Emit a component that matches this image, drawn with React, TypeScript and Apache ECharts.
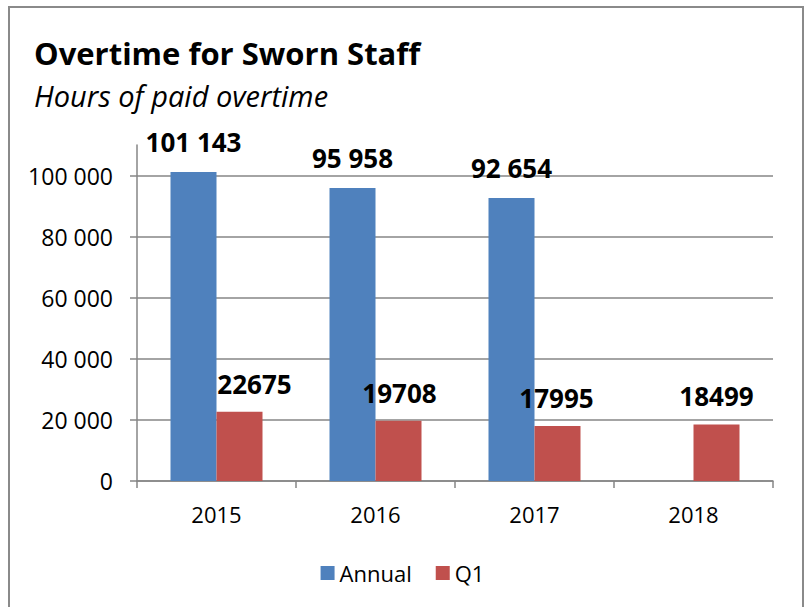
import React, { useEffect, useRef } from "react";
import * as echarts from "echarts";

const categories = ["2015", "2016", "2017", "2018"];
const annualValues: (number | null)[] = [101143, 95958, 92654, null];
const q1Values = [22675, 19708, 17995, 18499];
const q1LabelOffsets = [15, 1, -1, 0];

const FONT = "'Open Sans', sans-serif";
const fmtSpace = (v: number) =>
  String(Math.round(v)).replace(/\B(?=(\d{3})+(?!\d))/g, " ");

export default function App() {
  const ref = useRef<HTMLDivElement>(null);
  useEffect(() => {
    if (!ref.current) return;
    const chart = echarts.init(ref.current, null, { renderer: "svg" });
    chart.setOption({
      animation: false,
      backgroundColor: "#ffffff",
      textStyle: { fontFamily: FONT },
      title: [
        {
          text: "Overtime for Sworn Staff",
          left: 29,
          top: 32,
          textStyle: { fontFamily: FONT, fontSize: 31, fontWeight: "bold", color: "#000" },
        },
        {
          text: "Hours of paid overtime",
          left: 29,
          top: 76,
          textStyle: { fontFamily: FONT, fontSize: 29, fontStyle: "italic", fontWeight: "normal", color: "#000" },
        },
      ],
      graphic: [
        {
          type: "rect",
          shape: { x: 9, y: 7, width: 794, height: 640 },
          style: { fill: "none", stroke: "#8a8a8a", lineWidth: 2 },
          silent: true,
          z: -1,
        },
      ],
      legend: {
        bottom: 18,
        left: "center",
        itemWidth: 14,
        itemHeight: 14,
        itemGap: 24,
        icon: "rect",
        textStyle: { fontFamily: FONT, fontSize: 22, color: "#000" },
        data: ["Annual", "Q1"],
      },
      grid: { left: 137, right: 32, top: 145, bottom: 126 },
      xAxis: {
        type: "category",
        data: categories,
        axisLine: { lineStyle: { color: "#868686", width: 1.5 } },
        axisTick: { show: true, length: 7, lineStyle: { color: "#868686", width: 1.5 } },
        axisLabel: { fontFamily: FONT, fontSize: 22, color: "#000", margin: 22 },
      },
      yAxis: {
        type: "value",
        min: 0,
        max: 110000,
        interval: 20000,
        axisLine: { show: true, lineStyle: { color: "#868686", width: 1.5 } },
        axisTick: { show: true, length: 7, lineStyle: { color: "#868686", width: 1.5 } },
        splitLine: { show: true, showMaxLine: false, lineStyle: { color: "#868686", width: 1.5 } },
        axisLabel: {
          fontFamily: FONT,
          fontSize: 23,
          color: "#000",
          margin: 24,
          showMaxLabel: false,
          formatter: (v: number) => (v > 100000 ? "" : fmtSpace(v)),
        },
      },
      series: [
        {
          name: "Annual",
          type: "bar",
          data: annualValues,
          barWidth: 46,
          barGap: "0%",
          itemStyle: { color: "#4F81BD" },
          label: {
            show: true,
            position: "top",
            distance: 17,
            fontFamily: FONT,
            fontSize: 26,
            fontWeight: "bold",
            lineHeight: 26,
            color: "#000",
            formatter: (p: any) => (p.value == null ? "" : fmtSpace(p.value)),
          },
        },
        {
          name: "Q1",
          type: "bar",
          data: q1Values.map((v, i) => ({
            value: v,
            label: { offset: [q1LabelOffsets[i], 0] },
          })),
          barWidth: 46,
          barGap: "0%",
          itemStyle: { color: "#C0504D" },
          label: {
            show: true,
            position: "top",
            distance: 15,
            fontFamily: FONT,
            fontSize: 26,
            fontWeight: "bold",
            lineHeight: 26,
            color: "#000",
            formatter: (p: any) => String(p.value),
          },
        },
      ],
    });
    return () => chart.dispose();
  }, []);
  return <div ref={ref} style={{ width: 805, height: 607, position: "absolute", left: 0, top: 0 }} />;
}
